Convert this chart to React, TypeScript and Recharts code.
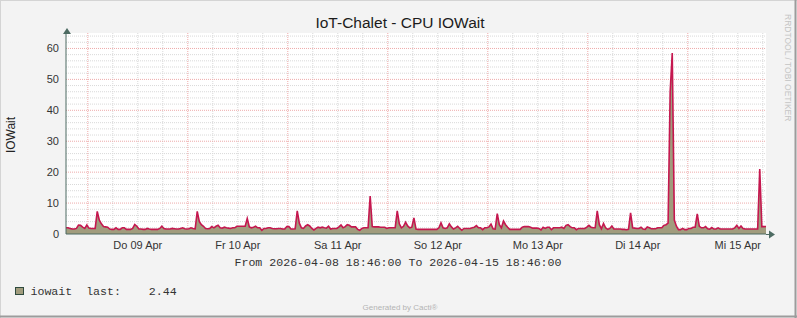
import { AreaChart, Area, XAxis, YAxis, CartesianGrid } from "recharts";

// 30-minute samples, starting 2026-04-08 18:46 (hours counted from Apr 08 00:00)
const startHour = 18.77;
const stepHours = 0.5;

const dayLabels = ["Do 09 Apr", "Fr 10 Apr", "Sa 11 Apr", "So 12 Apr", "Mo 13 Apr", "Di 14 Apr", "Mi 15 Apr"];
const dayLabelHours = [36, 60, 84, 108, 132, 156, 180];
const yTicks = [0, 10, 20, 30, 40, 50, 60];

const iowait1 = [
  2.0, 2.0, 1.8, 1.6, 1.6, 1.8, 2.9, 2.8, 2.2, 1.8,
  2.9, 1.9, 1.8, 1.8, 1.8, 7.3, 4.5, 3.3, 2.4, 2.3,
  2.2, 1.6, 1.5, 1.5, 2.0, 1.5, 1.5, 2.0, 2.0, 1.5,
  1.5, 1.5, 1.8, 3.1, 2.5, 1.6, 1.6, 1.5, 1.5, 1.8,
  1.6, 1.5, 1.5, 1.5, 1.5, 1.8, 2.5, 1.8,
];
const iowait2 = [
  1.6, 1.6, 1.6, 1.8, 1.7, 1.6, 1.6, 1.8, 2.0, 1.7,
  1.6, 1.7, 2.0, 1.8, 1.7, 7.3, 4.0, 3.0, 2.5, 1.8,
  1.7, 1.8, 2.4, 2.0, 2.5, 2.8, 2.0, 1.9, 2.2, 2.0,
  1.9, 1.8, 2.0, 2.0, 2.5, 2.5, 2.5, 2.5, 2.5, 5.0,
  2.3, 2.0, 2.2, 2.5, 2.0, 2.0, 1.2, 1.8,
];
const iowait3 = [
  1.8, 2.0, 2.0, 1.8, 1.7, 1.7, 1.8, 1.8, 1.6, 1.6,
  2.4, 2.4, 1.6, 1.6, 1.7, 7.5, 3.5, 2.0, 1.8, 2.6,
  3.0, 2.6, 1.8, 1.3, 1.8, 2.2, 2.0, 2.2, 2.0, 1.9,
  2.5, 1.6, 1.8, 1.8, 1.8, 2.3, 2.9, 2.0, 2.4, 3.0,
  2.8, 2.3, 2.3, 2.3, 1.5, 1.2, 1.8, 2.0,
];
const iowait4 = [
  2.0, 2.0, 12.3, 2.4, 2.3, 2.3, 2.3, 2.2, 2.2, 2.2,
  1.8, 2.0, 2.0, 2.0, 2.0, 7.5, 3.3, 2.0, 2.5, 3.8,
  2.6, 2.0, 2.2, 5.2, 1.6, 1.5, 1.5, 1.5, 1.5, 1.5,
  1.5, 1.5, 1.5, 1.5, 1.5, 2.0, 3.6, 2.0, 1.8, 2.0,
  3.3, 2.3, 1.6, 2.0, 2.5, 1.8, 1.2, 1.8,
];
const iowait5 = [
  1.8, 1.8, 1.8, 2.0, 2.2, 2.7, 2.0, 2.0, 1.4, 2.0,
  2.0, 2.3, 3.2, 1.7, 1.6, 6.6, 3.0, 2.0, 4.2, 3.0,
  2.2, 1.5, 1.5, 1.5, 1.5, 1.5, 1.5, 2.2, 2.4, 2.4,
  2.4, 2.2, 1.9, 1.9, 1.9, 1.8, 1.3, 2.2, 1.8, 2.2,
  2.2, 1.4, 2.0, 2.0, 2.0, 2.0, 2.2, 1.8,
];
const iowait6 = [
  2.8, 3.0, 2.4, 2.0, 2.0, 1.4, 1.8, 1.8, 1.8, 1.8,
  2.2, 2.8, 2.2, 2.0, 2.0, 7.5, 3.0, 1.7, 3.4, 2.0,
  1.5, 1.8, 2.6, 1.6, 1.6, 1.6, 1.6, 1.5, 1.5, 1.4,
  1.5, 6.8, 2.0, 1.9, 1.8, 1.8, 2.2, 1.6, 1.5, 2.3,
  2.0, 1.7, 1.7, 1.7, 2.0, 2.0, 2.0, 2.8,
];
const iowait7 = [
  3.0, 3.5, 46, 58.5, 4.5, 2.5, 1.4, 1.4, 1.8, 1.4,
  1.4, 1.8, 1.8, 2.2, 2.2, 6.5, 2.5, 2.0, 2.0, 2.4,
  1.7, 1.6, 2.1, 1.6, 1.6, 2.0, 1.6, 1.6, 1.6, 1.6,
  1.6, 1.6, 1.6, 2.0, 2.8, 1.8, 2.6, 1.8, 1.6, 1.6,
  1.6, 1.6, 1.6, 1.6, 1.6, 21, 2.4, 2.4, 2.44,
];

const minorY = [2, 4, 6, 8, 12, 14, 16, 18, 22, 24, 26, 28, 32, 34, 36, 38, 42, 44, 46, 48, 52, 54, 56, 58, 62, 64];
const majorY = [10, 20, 30, 40, 50, 60];
const majorX = [24, 48, 72, 96, 120, 144, 168];
const minorX = [30, 36, 42, 54, 60, 66, 78, 84, 90, 102, 108, 114, 126, 132, 138, 150, 156, 162, 174, 180, 186];

const values = [...iowait1, ...iowait2, ...iowait3, ...iowait4, ...iowait5, ...iowait6, ...iowait7];
const data = values.map((v, i) => ({ h: startHour + i * stepHours, iowait: v }));

const AXIS = "#4d6b62";
const FILL = "#a19c7d";
const LINE = "#c5174f";
const MONO = "'Liberation Mono', 'DejaVu Sans Mono', monospace";

export default function App() {
  return (
    <div
      style={{
        position: "absolute",
        left: 0,
        top: 0,
        width: 797,
        height: 318,
        background: "#f3f3f3",
        fontFamily: "'Liberation Sans', Arial, sans-serif",
      }}
    >
      <AreaChart width={797} height={318} data={data} margin={{ top: 33, right: 31, bottom: 64, left: 26 }}>
        <CartesianGrid
          fill="#ffffff"
          stroke="#d9d9d9"
          strokeDasharray="1 1"
          horizontalValues={minorY}
          verticalValues={minorX}
        />
        <CartesianGrid
          stroke="#eeaaaa"
          strokeDasharray="1 1"
          horizontalValues={majorY}
          verticalValues={majorX}
        />
        <XAxis
          dataKey="h"
          type="number"
          domain={[startHour, startHour + 168]}
          allowDataOverflow
          ticks={dayLabelHours}
          interval={0}
          tickFormatter={(_, i) => dayLabels[i]}
          height={20}
          axisLine={{ stroke: AXIS }}
          tickLine={false}
          tickMargin={1}
          tick={{ fill: "#333", fontSize: 11 }}
        />
        <YAxis
          domain={[0, 65]}
          ticks={yTicks}
          interval={0}
          width={40}
          axisLine={{ stroke: AXIS }}
          tickLine={false}
          tickMargin={1}
          tick={{ fill: "#333", fontSize: 11 }}
        />
        <Area
          dataKey="iowait"
          type="linear"
          stroke={LINE}
          strokeWidth={1.6}
          fill={FILL}
          fillOpacity={1}
          dot={false}
          activeDot={false}
          isAnimationActive={false}
        />
      </AreaChart>
      <svg width={797} height={318} style={{ position: "absolute", left: 0, top: 0, pointerEvents: "none" }}>
        <line x1={0.5} y1={0} x2={0.5} y2={318} stroke="#d4d4d4" />
        <line x1={0} y1={0.5} x2={797} y2={0.5} stroke="#d4d4d4" />
        <line x1={0} y1={316.5} x2={797} y2={316.5} stroke="#9c9c9c" strokeWidth={2} />
        <line x1={795.5} y1={0} x2={795.5} y2={318} stroke="#9c9c9c" strokeWidth={2} />
        <polygon points="63,34 71,34 67,28" fill={AXIS} />
        <line x1={766} y1={234.5} x2={770} y2={234.5} stroke={AXIS} />
        <polygon points="769,230.5 769,238.5 775,234.5" fill={AXIS} />
        <text x={400} y={28} textAnchor="middle" fontSize={15.5} fill="#1c1c1c">
          IoT-Chalet - CPU IOWait
        </text>
        <text x={15} y={135} textAnchor="middle" fontSize={12} fill="#222" transform="rotate(-90 15 135)">
          IOWait
        </text>
        <text x={785} y={14} fontSize={8.5} fill="#c4c4c4" transform="rotate(90 785 14)">
          RRDTOOL / TOBI OETIKER
        </text>
        <text x={398} y={266} textAnchor="middle" fontFamily={MONO} fontSize={11.6} fill="#333" style={{ whiteSpace: "pre" }}>
          From 2026-04-08 18:46:00 To 2026-04-15 18:46:00
        </text>
        <rect x={15.5} y={287.5} width={8} height={7} fill={FILL} stroke="#2f4a3e" />
        <text x={30.5} y={295} fontFamily={MONO} fontSize={11.6} fill="#333" style={{ whiteSpace: "pre" }}>
          {"iowait  last:    2.44"}
        </text>
        <text x={400} y={310} textAnchor="middle" fontSize={8} fill="#b4b4b4">
          Generated by Cacti®
        </text>
      </svg>
    </div>
  );
}
